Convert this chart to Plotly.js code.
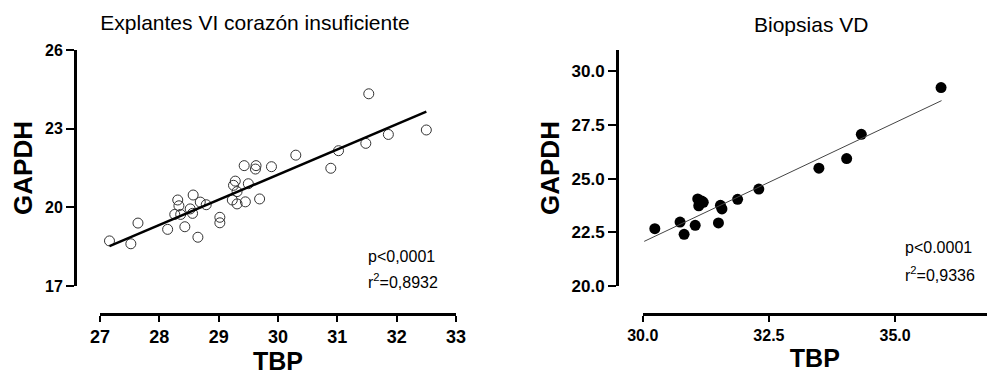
<!DOCTYPE html>
<html>
<head>
<meta charset="utf-8">
<script src="https://cdn.plot.ly/plotly-3.0.1.min.js"></script>
<style>html,body{margin:0;padding:0;background:#fff;}#chart{width:987px;height:378px;}</style>
</head>
<body>
<div id="chart"></div>
<script>
// ---- Left panel: Explantes VI corazón insuficiente (open circles)
const leftTBP = [27.16, 27.52, 27.64, 28.14, 28.31, 28.33, 28.26, 28.36, 28.43, 28.52, 28.56, 28.57, 28.65, 28.69, 28.79,
                 29.02, 29.02, 29.28, 29.25, 29.31, 29.23, 29.31, 29.45, 29.50, 29.43, 29.63, 29.62, 29.69, 29.89,
                 30.30, 30.89, 31.02, 31.48, 31.53, 31.86, 32.50];
const leftGAPDH = [18.72, 18.61, 19.40, 19.16, 20.28, 20.06, 19.73, 19.73, 19.26, 19.94, 19.77, 20.47, 18.86, 20.20, 20.10,
                   19.62, 19.41, 21.00, 20.84, 20.60, 20.28, 20.13, 20.21, 20.90, 21.59, 21.59, 21.46, 20.32, 21.55,
                   21.99, 21.49, 22.16, 22.44, 24.33, 22.78, 22.95];
const leftFitTBP = [27.16, 32.50];
const leftFitGAPDH = [18.52, 23.65];
const leftXTicks = [27, 28, 29, 30, 31, 32, 33];
const leftYTicks = [17, 20, 23, 26];

// ---- Right panel: Biopsias VD (filled circles)
const rightTBP = [30.24, 30.74, 30.82, 31.04, 31.09, 31.11, 31.17, 31.14, 31.20, 31.50, 31.54, 31.57, 31.88, 32.30,
                  33.49, 34.04, 34.33, 35.91];
const rightGAPDH = [22.67, 22.98, 22.41, 22.83, 24.06, 23.74, 23.96, 23.85, 23.90, 22.94, 23.76, 23.59, 24.04, 24.52,
                    25.49, 25.94, 27.07, 29.25];
const rightFitTBP = [30.03, 35.92];
const rightFitGAPDH = [22.08, 28.64];
const rightXTicks = [30.0, 32.5, 35.0];
const rightYTicks = [20.0, 22.5, 25.0, 27.5, 30.0];

const titles = ["Explantes VI corazón insuficiente", "Biopsias VD"];
const statsLeft = ["p<0,0001", "r<sup>2</sup>=0,8932"];
const statsRight = ["p<0.0001", "r<sup>2</sup>=0,9336"];

const W = 987, H = 378;
const px = v => v / W;
const py = v => 1 - v / H;
const FONT = "Liberation Sans, Arial, Helvetica, sans-serif";

const traces = [
  {x: leftTBP, y: leftGAPDH, type: 'scatter', mode: 'markers', xaxis: 'x', yaxis: 'y',
   marker: {symbol: 'circle-open', size: 10, color: '#333', line: {width: 1, color: '#333'}}},
  {x: leftFitTBP, y: leftFitGAPDH, type: 'scatter', mode: 'lines', xaxis: 'x', yaxis: 'y',
   line: {color: '#000', width: 2.5}},
  {x: rightTBP, y: rightGAPDH, type: 'scatter', mode: 'markers', xaxis: 'x2', yaxis: 'y2',
   marker: {symbol: 'circle', size: 11, color: '#000'}},
  {x: rightFitTBP, y: rightFitGAPDH, type: 'scatter', mode: 'lines', xaxis: 'x2', yaxis: 'y2',
   line: {color: '#444', width: 1}}
];

const axisCommon = {
  showline: true, linecolor: '#000', linewidth: 2.5, ticks: 'outside', tickwidth: 2, tickcolor: '#000',
  showgrid: false, zeroline: false, anchor: 'free', fixedrange: true
};

const layout = {
  width: W, height: H, showlegend: false,
  margin: {l: 0, r: 0, t: 0, b: 0},
  paper_bgcolor: '#fff', plot_bgcolor: 'rgba(0,0,0,0)',
  font: {family: FONT, color: '#000'},
  title: {text: titles[0], x: px(255), xanchor: 'center', y: py(23), yanchor: 'middle',
          font: {family: FONT, size: 21, color: '#000'}},
  xaxis: Object.assign({}, axisCommon, {
    domain: [px(100), px(456)], range: [27, 33], position: py(314),
    tickvals: leftXTicks, ticklen: 6,
    tickfont: {family: FONT, size: 18, weight: 'bold'},
    title: {text: '<b>TBP</b>', font: {family: FONT, size: 25}, standoff: 6}
  }),
  yaxis: Object.assign({}, axisCommon, {
    domain: [py(286), py(50)], range: [17, 26], position: px(75),
    tickvals: leftYTicks, ticklen: 8,
    tickfont: {family: FONT, size: 16, weight: 'bold'},
    title: {text: '<b>GAPDH</b>', font: {family: FONT, size: 26}, standoff: 4}
  }),
  xaxis2: Object.assign({}, axisCommon, {
    domain: [px(642.7), 1], range: [30, 36.82], position: py(314),
    tickvals: rightXTicks, tickformat: '.1f', ticklen: 6,
    tickfont: {family: FONT, size: 16, weight: 'bold'},
    title: {text: '<b>TBP</b>', font: {family: FONT, size: 25}, standoff: 6}
  }),
  yaxis2: Object.assign({}, axisCommon, {
    domain: [py(286), py(50)], range: [20, 31], position: px(617),
    tickvals: rightYTicks, tickformat: '.1f', ticklen: 8,
    tickfont: {family: FONT, size: 17, weight: 'bold'},
    title: {text: '<b>GAPDH</b>', font: {family: FONT, size: 26}, standoff: 3}
  }),
  annotations: [
    {text: titles[1], xref: 'paper', yref: 'paper', x: px(811), y: py(24), xanchor: 'center', yanchor: 'middle',
     showarrow: false, font: {family: FONT, size: 21, color: '#000'}},
    {text: statsLeft[0], xref: 'paper', yref: 'paper', x: px(366), y: py(256), xanchor: 'left', yanchor: 'middle',
     showarrow: false, font: {family: FONT, size: 16, color: '#000'}},
    {text: statsLeft[1], xref: 'paper', yref: 'paper', x: px(366), y: py(281), xanchor: 'left', yanchor: 'middle',
     showarrow: false, font: {family: FONT, size: 16, color: '#000'}},
    {text: statsRight[0], xref: 'paper', yref: 'paper', x: px(903), y: py(247), xanchor: 'left', yanchor: 'middle',
     showarrow: false, font: {family: FONT, size: 16, color: '#000'}},
    {text: statsRight[1], xref: 'paper', yref: 'paper', x: px(903), y: py(274), xanchor: 'left', yanchor: 'middle',
     showarrow: false, font: {family: FONT, size: 16, color: '#000'}}
  ]
};

Plotly.newPlot('chart', traces, layout, {displayModeBar: false, staticPlot: true});
</script>
</body>
</html>
